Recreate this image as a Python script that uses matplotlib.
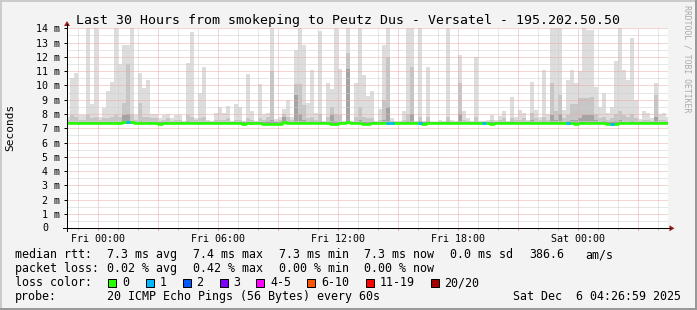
import matplotlib
matplotlib.use("Agg")
from matplotlib import pyplot as plt
from matplotlib import dates as mdates
from matplotlib.patches import Rectangle, Polygon
from matplotlib.lines import Line2D
from matplotlib.ticker import MultipleLocator, FuncFormatter
import numpy as np
import pandas as pd

plt.rcParams['font.family'] = ['DejaVu Sans Mono']

# one smoke column every 12 minutes, values in ms
start = "2025-12-04 22:24"
step_min = 12
ping_floor = 7.28

ping_max = [
    7.8, 10.5, 10.9, 7.9, 7.9, 14.6, 8.7, 14.6, 7.8, 8.45,
    9.6, 10.24, 14.6, 11.5, 12.83, 12.83, 14.6, 7.9, 10.9, 9.84,
    10.38, 8.0, 8.0, 7.7, 7.9, 8.0, 7.7, 7.95, 7.95, 7.5,
    11.55, 13.74, 7.7, 9.47, 11.3, 7.6, 7.5, 8.05, 8.47, 8.05,
    8.56, 7.5, 8.7, 8.47, 7.5, 10.8, 8.2, 7.5, 10.1, 8.0,
    8.05, 14.6, 7.65, 7.8, 8.35, 9.0, 7.8, 12.5, 14.6, 12.86,
    8.75, 11.1, 8.05, 13.84, 7.5, 10.15, 9.75, 14.6, 11.15, 7.5,
    14.6, 7.5, 10.15, 14.6, 10.75, 9.29, 9.64, 7.5, 8.35, 12.86,
    14.6, 7.7, 7.5, 7.5, 8.2, 14.6, 14.6, 7.5, 14.6, 7.5,
    11.3, 7.45, 7.45, 7.55, 7.5, 14.6, 7.55, 7.5, 12.13, 8.2,
    7.7, 7.5, 12.0, 7.5, 7.5, 7.55, 7.9, 7.55, 7.85, 8.2,
    7.5, 9.2, 7.8, 8.3, 8.1, 7.6, 10.27, 8.25, 7.8, 11.1,
    8.0, 14.6, 14.6, 14.6, 8.3, 10.38, 11.1, 10.15, 11.0, 14.6,
    13.9, 13.9, 9.9, 8.47, 9.45, 8.05, 8.47, 11.74, 14.6, 11.1,
    10.35, 13.3, 9.0, 7.65, 8.2, 8.05, 7.7, 10.15, 8.0, 8.1, 7.8,
]

ping_mid = [
    7.6, 7.9, 7.8, 7.6, 7.6, 7.9, 7.7, 7.8, 7.6, 7.7,
    7.7, 7.8, 7.9, 7.8, 8.8, 11.5, 8.0, 7.6, 8.8, 7.8,
    7.8, 7.7, 7.7, 7.5, 7.6, 7.7, 7.5, 7.6, 7.6, 7.4,
    7.9, 7.8, 7.6, 7.7, 7.8, 7.5, 7.4, 7.6, 7.6, 7.6,
    7.7, 7.4, 7.6, 7.6, 7.4, 7.7, 7.6, 7.4, 7.7, 7.6,
    7.8, 11.0, 7.5, 7.6, 8.0, 7.8, 7.6, 10.1, 10.1, 8.6,
    7.7, 7.8, 7.6, 8.0, 7.4, 7.8, 8.47, 8.0, 7.9, 7.4,
    12.3, 7.4, 7.8, 8.5, 7.8, 7.7, 7.7, 7.4, 7.6, 9.0,
    12.0, 7.5, 7.4, 7.4, 7.6, 8.0, 11.3, 7.4, 7.8, 7.4,
    7.8, 7.4, 7.4, 7.45, 7.4, 7.8, 7.45, 7.4, 10.15, 7.6,
    7.5, 7.4, 7.8, 7.4, 7.4, 7.45, 7.6, 7.45, 7.6, 7.7,
    7.4, 7.7, 7.6, 7.6, 7.7, 7.5, 8.1, 7.7, 7.6, 7.8,
    7.6, 10.15, 8.2, 9.36, 7.7, 7.9, 8.7, 8.7, 9.1, 9.1,
    9.1, 9.2, 8.0, 7.7, 7.8, 7.6, 7.7, 8.0, 8.2, 7.9,
    7.8, 8.0, 7.7, 7.5, 7.6, 7.6, 7.5, 9.3, 7.6, 7.6, 7.5,
]

ping_core = [
    7.42, 7.42, 7.42, 7.42, 7.42, 7.42, 7.42, 7.42, 7.42, 7.42,
    7.42, 7.42, 7.42, 7.42, 7.9, 8.0, 7.5, 7.42, 7.5, 7.42,
    7.42, 7.42, 7.42, 7.42, 7.42, 7.42, 7.42, 7.42, 7.42, 7.42,
    7.5, 7.42, 7.42, 7.42, 7.42, 7.42, 7.42, 7.42, 7.42, 7.42,
    7.42, 7.42, 7.42, 7.42, 7.42, 7.42, 7.42, 7.42, 7.42, 7.42,
    7.5, 7.6, 7.42, 7.42, 7.8, 7.5, 7.42, 9.3, 8.0, 7.6,
    7.42, 7.5, 7.42, 7.5, 7.42, 7.42, 7.9, 7.5, 7.42, 7.42,
    11.15, 7.42, 7.42, 7.6, 7.42, 7.42, 7.42, 7.42, 7.42, 7.6,
    8.5, 7.42, 7.42, 7.42, 7.42, 7.5, 8.0, 7.42, 7.5, 7.42,
    7.5, 7.42, 7.42, 7.42, 7.42, 7.5, 7.42, 7.42, 8.0, 7.42,
    7.42, 7.42, 7.42, 7.42, 7.42, 7.42, 7.42, 7.42, 7.42, 7.42,
    7.42, 7.5, 7.42, 7.42, 7.42, 7.42, 7.6, 7.42, 7.42, 7.5,
    7.42, 7.9, 7.6, 8.0, 7.42, 7.5, 7.6, 7.6, 7.7, 7.9,
    7.9, 7.9, 7.6, 7.42, 7.5, 7.42, 7.42, 7.5, 7.6, 7.42,
    7.42, 7.5, 7.42, 7.42, 7.42, 7.42, 7.42, 7.8, 7.42, 7.42, 7.42,
]

median_rtt = [
    7.35, 7.35, 7.35, 7.35, 7.35, 7.35, 7.35, 7.35, 7.35, 7.35,
    7.35, 7.35, 7.35, 7.35, 7.42, 7.45, 7.43, 7.35, 7.35, 7.35,
    7.35, 7.35, 7.35, 7.30, 7.34, 7.34, 7.34, 7.34, 7.34, 7.34,
    7.35, 7.35, 7.35, 7.35, 7.35, 7.35, 7.35, 7.35, 7.35, 7.35,
    7.35, 7.35, 7.35, 7.34, 7.31, 7.34, 7.35, 7.35, 7.34, 7.31,
    7.31, 7.31, 7.32, 7.32, 7.43, 7.34, 7.34, 7.34, 7.35, 7.35,
    7.35, 7.35, 7.35, 7.35, 7.34, 7.34, 7.31, 7.31, 7.35, 7.36,
    7.43, 7.35, 7.35, 7.35, 7.31, 7.31, 7.34, 7.34, 7.35, 7.35,
    7.35, 7.35, 7.35, 7.34, 7.34, 7.35, 7.35, 7.35, 7.35, 7.33,
    7.35, 7.35, 7.34, 7.34, 7.34, 7.35, 7.35, 7.35, 7.35, 7.35,
    7.35, 7.35, 7.35, 7.34, 7.34, 7.34, 7.32, 7.34, 7.34, 7.34,
    7.35, 7.35, 7.35, 7.35, 7.35, 7.35, 7.35, 7.35, 7.35, 7.35,
    7.35, 7.35, 7.35, 7.35, 7.35, 7.37, 7.37, 7.31, 7.35, 7.35,
    7.35, 7.35, 7.35, 7.35, 7.35, 7.31, 7.31, 7.31, 7.35, 7.35,
    7.35, 7.35, 7.35, 7.35, 7.35, 7.35, 7.35, 7.35, 7.35, 7.35, 7.35,
]

# lost pings (out of 20) per step
loss = [0] * 151
for k in [15, 80, 81, 88, 104, 125, 136]:
    loss[k] = 1

loss_labels = ["0", "1", "2", "3", "4-5", "6-10", "11-19", "20/20"]
loss_colors = ["#26ff00", "#00b8ff", "#0059ff", "#7e00ff",
               "#ff00ff", "#ff5500", "#ff0000", "#a10000"]

title = "Last 30 Hours from smokeping to Peutz Dus - Versatel - 195.202.50.50"
stats_rtt = ["7.3 ms avg", "7.4 ms max", "7.3 ms min", "7.3 ms now", "0.0 ms sd", "386.6", "am/s"]
stats_loss = ["0.02 % avg", "0.42 % max", "0.00 % min", "0.00 % now"]
probe = "20 ICMP Echo Pings (56 Bytes) every 60s"
stamp = "Sat Dec  6 04:26:59 2025"

W, H = 697, 310


def fx(x):
    return x / W


def fy(y):
    return 1 - y / H


fig = plt.figure(figsize=(W / 100, H / 100), dpi=100, facecolor="#F3F3F3")
ax = fig.add_axes([fx(67), fy(228.3), (668.3 - 67) / W, 200.0 / H])
ax.set_facecolor("white")

times = pd.date_range(start, periods=len(ping_max), freq=f"{step_min}min")
x = mdates.date2num(times.to_pydatetime())
w = step_min / 1440.0
mx = np.array(ping_max)
md = np.array(ping_mid)
co = np.array(ping_core)

ax.bar(x, mx - ping_floor, bottom=ping_floor, width=w, align='edge', color="#DDDDDD", linewidth=0)
ax.bar(x, md - ping_floor, bottom=ping_floor, width=w, align='edge', color="#C6C6C6", linewidth=0)
ax.bar(x, co - ping_floor, bottom=ping_floor, width=w, align='edge', color="#A4A4A4", linewidth=0)

xs = np.append(x, x[-1] + w)
ys = np.append(median_rtt, median_rtt[-1])
ax.step(xs, ys, where='post', color=loss_colors[0], linewidth=1.9, zorder=4)
lost = np.array(loss) > 0
ax.hlines(np.array(median_rtt)[lost], x[lost], x[lost] + w, color=loss_colors[1], linewidth=1.9, zorder=5)

ax.set_xlim(mdates.date2num(pd.Timestamp("2025-12-04 22:28").to_pydatetime()),
            mdates.date2num(pd.Timestamp("2025-12-06 04:32").to_pydatetime()))
ax.set_ylim(0, 14)

ax.xaxis.set_major_locator(mdates.HourLocator(byhour=range(0, 24, 3)))
ax.xaxis.set_minor_locator(mdates.HourLocator())


def xfmt(v, pos):
    d = mdates.num2date(round(v * 24) / 24)
    return d.strftime("%a %H:%M") if d.hour % 6 == 0 else ""


ax.xaxis.set_major_formatter(FuncFormatter(xfmt))
ax.yaxis.set_major_locator(MultipleLocator(1))
ax.yaxis.set_minor_locator(MultipleLocator(0.5))
ax.yaxis.set_major_formatter(FuncFormatter(lambda v, pos: "" if v == 0 else f"{v:2.0f} m"))
# zero has a blank unit, so its digit sits in the number column
ax.annotate("0", xy=(0, 0), xycoords=('axes fraction', 'data'), xytext=(-13.7, 0),
            textcoords='offset points', ha='right', va='center', fontsize=7.2)

ax.tick_params(axis='x', which='major', direction='out', length=1.5, width=0.72,
               color="#E08080", pad=2.4, labelsize=7.2)
ax.tick_params(axis='x', which='minor', direction='out', length=1.5, width=0.72, color="#BBBBBB")
ax.tick_params(axis='y', which='major', direction='out', length=2.2, width=0.72,
               color="black", pad=3.0, labelsize=7.2)
ax.tick_params(axis='y', which='minor', length=0)

ax.set_axisbelow(False)
ax.grid(True, which='major', color="#ECAAAA", linestyle=(0, (1, 1)), linewidth=0.72)
ax.grid(True, which='minor', color="#CFCFCF", linestyle=(0, (1, 1)), linewidth=0.72)
for s in ax.spines.values():
    s.set_visible(False)

# axes with arrows, drawn on the figure
fig.add_artist(Line2D([fx(67), fx(67)], [fy(231), fy(24)], color="black", linewidth=0.72))
fig.add_artist(Line2D([fx(63), fx(670)], [fy(228.3), fy(228.3)], color="black", linewidth=0.72))
fig.add_artist(Polygon([[fx(67), fy(21)], [fx(64), fy(26)], [fx(70), fy(26)]], closed=True,
                       transform=fig.transFigure, color="#9B1B1B", linewidth=0))
fig.add_artist(Polygon([[fx(674.5), fy(228.3)], [fx(669.5), fy(225.3)], [fx(669.5), fy(231.3)]],
                       closed=True, transform=fig.transFigure, color="#9B1B1B", linewidth=0))

fig.text(fx(347.5), fy(24), title, ha='center', va='baseline', fontsize=9.52)
fig.text(fx(10), fy(127), "Seconds", rotation=90, ha='center', va='center', fontsize=8.0)
fig.text(fx(687), fy(59), "RRDTOOL / TOBI OETIKER", rotation=270, ha='center', va='center',
         fontsize=5.9, color="#AAAAAA")

fs = 8.4
rows = [258.3, 272.3, 286.3, 300.0]
fig.text(fx(15.3), fy(rows[0]), "median rtt:", va='baseline', fontsize=fs)
for s, xp in zip(stats_rtt, [106.6, 192.6, 278.6, 364.3, 450.3, 529.3, 585.3]):
    fig.text(fx(xp), fy(rows[0]), s, va='baseline', fontsize=fs)
fig.text(fx(15.3), fy(rows[1]), "packet loss:", va='baseline', fontsize=fs)
for s, xp in zip(stats_loss, [106.6, 192.6, 278.6, 364.3]):
    fig.text(fx(xp), fy(rows[1]), s, va='baseline', fontsize=fs)
fig.text(fx(15.3), fy(rows[2]), "loss color:", va='baseline', fontsize=fs)
sq_x = [108, 145.5, 182.5, 219.5, 256, 307, 365.5, 430.5]
lb_x = [122.6, 159.3, 196.6, 233.6, 270.3, 321.0, 379.3, 444.3]
for lab, c, sx, lx in zip(loss_labels, loss_colors, sq_x, lb_x):
    fig.add_artist(Rectangle((fx(sx), fy(286.5)), 8 / W, 8 / H, transform=fig.transFigure,
                             facecolor=c, edgecolor="black", linewidth=0.72))
    fig.text(fx(lx), fy(rows[2]), lab, va='baseline', fontsize=fs)
fig.text(fx(15.3), fy(rows[3]), "probe:", va='baseline', fontsize=fs)
fig.text(fx(106.6), fy(rows[3]), probe, va='baseline', fontsize=fs)
fig.text(fx(512.6), fy(rows[3]), stamp, va='baseline', fontsize=fs)

# frame shading
for (x0, y0, ww, hh, c) in [(0, 0, W, 2, "#CBCBCB"), (0, 0, 2, H, "#CBCBCB"),
                            (0, H - 2, W, 2, "#999999"), (W - 2, 0, 2, H, "#999999")]:
    fig.add_artist(Rectangle((fx(x0), fy(y0 + hh)), ww / W, hh / H, transform=fig.transFigure,
                             facecolor=c, linewidth=0))

fig.savefig("out.png", dpi=100, facecolor=fig.get_facecolor())
